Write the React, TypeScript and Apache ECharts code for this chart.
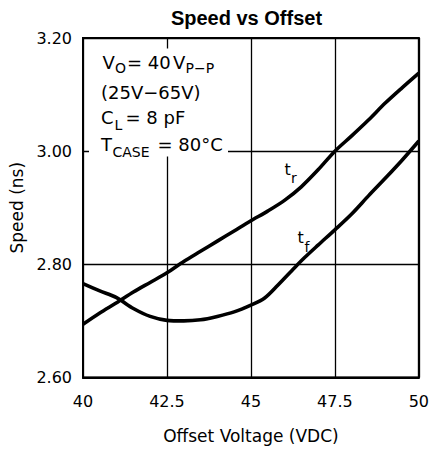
import React, { useEffect, useRef } from "react";
import * as echarts from "echarts";

// Offset voltage (VDC) and speed (ns)
const trVolts = [40, 40.5, 41, 41.5, 42, 42.5, 43, 43.5, 44, 44.5, 45, 45.5, 46, 46.5, 47, 47.5, 48, 48.5, 49, 49.5, 50];
const trSpeed = [2.694, 2.714, 2.732, 2.751, 2.768, 2.785, 2.805, 2.823, 2.841, 2.859, 2.877, 2.894, 2.913, 2.937, 2.967, 3.0, 3.027, 3.055, 3.085, 3.112, 3.138];

const tfVolts = [40, 40.5, 41, 41.5, 42, 42.5, 43, 43.5, 44, 44.5, 45, 45.4, 45.8, 46.3, 46.6, 47, 47.5, 48, 48.5, 49, 49.5, 50];
const tfSpeed = [2.766, 2.753, 2.741, 2.722, 2.708, 2.701, 2.7, 2.702, 2.708, 2.716, 2.728, 2.74, 2.763, 2.794, 2.812, 2.834, 2.861, 2.889, 2.921, 2.952, 2.984, 3.018];

const xMin = 40;
const xMax = 50;
const xStep = 2.5;
const yMin = 2.6;
const yMax = 3.2;
const yStep = 0.2;

const title = "Speed vs Offset";
const xName = "Offset Voltage (VDC)";
const yName = "Speed (ns)";

const FONT = '"DejaVu Sans"';

function txt(text: string, x: number, y: number, size: number, extra: any = {}) {
  return {
    type: "text",
    x,
    y,
    z: 100,
    style: {
      text,
      fill: "#000",
      font: `${extra.weight || "normal"} ${size}px ${extra.family || FONT}`,
      textAlign: extra.align || "left",
      align: extra.align || "left",
      textVerticalAlign: "middle",
      verticalAlign: "middle",
    },
  };
}

export default function App() {
  const ref = useRef<HTMLDivElement>(null);

  useEffect(() => {
    if (!ref.current) return;
    const chart = echarts.init(ref.current, undefined, { renderer: "svg" });
    const trData = trVolts.map((v, i) => [v, trSpeed[i]]);
    const tfData = tfVolts.map((v, i) => [v, tfSpeed[i]]);

    chart.setOption({
      animation: false,
      backgroundColor: "#fff",
      grid: {
        left: 83,
        right: 8,
        top: 38,
        bottom: 74.5,
        show: true,
        borderColor: "#000",
        borderWidth: 2,
        containLabel: false,
      },
      xAxis: {
        type: "value",
        min: xMin,
        max: xMax,
        interval: xStep,
        name: xName,
        nameLocation: "middle",
        nameGap: 50,
        nameTextStyle: { fontFamily: FONT, fontSize: 17, color: "#000" },
        axisLine: { show: true, lineStyle: { color: "#000", width: 2 } },
        axisTick: { show: false },
        axisLabel: {
          margin: 16,
          fontFamily: FONT,
          fontSize: 16,
          color: "#000",
        },
        splitLine: { show: true, lineStyle: { color: "#000", width: 1.3 } },
      },
      yAxis: {
        type: "value",
        min: yMin,
        max: yMax,
        interval: yStep,
        name: yName,
        nameLocation: "middle",
        nameGap: 56,
        nameTextStyle: { fontFamily: FONT, fontSize: 17, color: "#000" },
        axisLine: { show: true, lineStyle: { color: "#000", width: 2 } },
        axisTick: { show: false },
        axisLabel: {
          margin: 11,
          fontFamily: FONT,
          fontSize: 16,
          color: "#000",
          formatter: (v: number) => v.toFixed(2),
        },
        splitLine: { show: true, lineStyle: { color: "#000", width: 1.3 } },
      },
      series: [
        {
          type: "line",
          name: "tr",
          data: trData,
          symbol: "none",
          smooth: 0.3,
          lineStyle: { color: "#000", width: 3.6 },
          z: 5,
        },
        {
          type: "line",
          name: "tf",
          data: tfData,
          symbol: "none",
          smooth: 0.3,
          lineStyle: { color: "#000", width: 3.6 },
          z: 5,
        },
      ],
      graphic: [
        txt(title, 246.5, 18, 20, { weight: "bold", family: '"Liberation Sans", Arial, sans-serif', align: "center" }),
        {
          type: "rect",
          z: 50,
          shape: { x: 89, y: 48.5, width: 139, height: 108 },
          style: { fill: "#fff" },
        },
        // line 1: V_O = 40 V_P-P
        txt("V", 102.5, 62, 18),
        txt("O", 115, 68, 14),
        txt("= 40", 127, 62, 18),
        txt("V", 173, 62, 18),
        txt("P\u2212P", 185.5, 68, 14),
        // line 2
        txt("(25V\u221265V)", 101, 92, 18),
        // line 3: C_L = 8 pF
        txt("C", 101, 117, 18),
        txt("L", 114.5, 125, 14),
        txt("= 8 pF", 125.5, 117, 18),
        // line 4: T_CASE = 80°C
        txt("T", 101, 144.5, 18),
        txt("CASE", 112.5, 151.5, 14),
        txt("= 80\u00B0C", 157.5, 144.5, 18),
        // curve labels
        txt("t", 284.5, 169, 16),
        txt("r", 291, 178, 14),
        txt("t", 297.5, 237, 16),
        txt("f", 304.5, 246.5, 14),
      ],
    });

    return () => {
      chart.dispose();
    };
  }, []);

  return (
    <div
      ref={ref}
      style={{ position: "fixed", left: 0, top: 0, width: 432, height: 452, background: "#fff" }}
    />
  );
}
